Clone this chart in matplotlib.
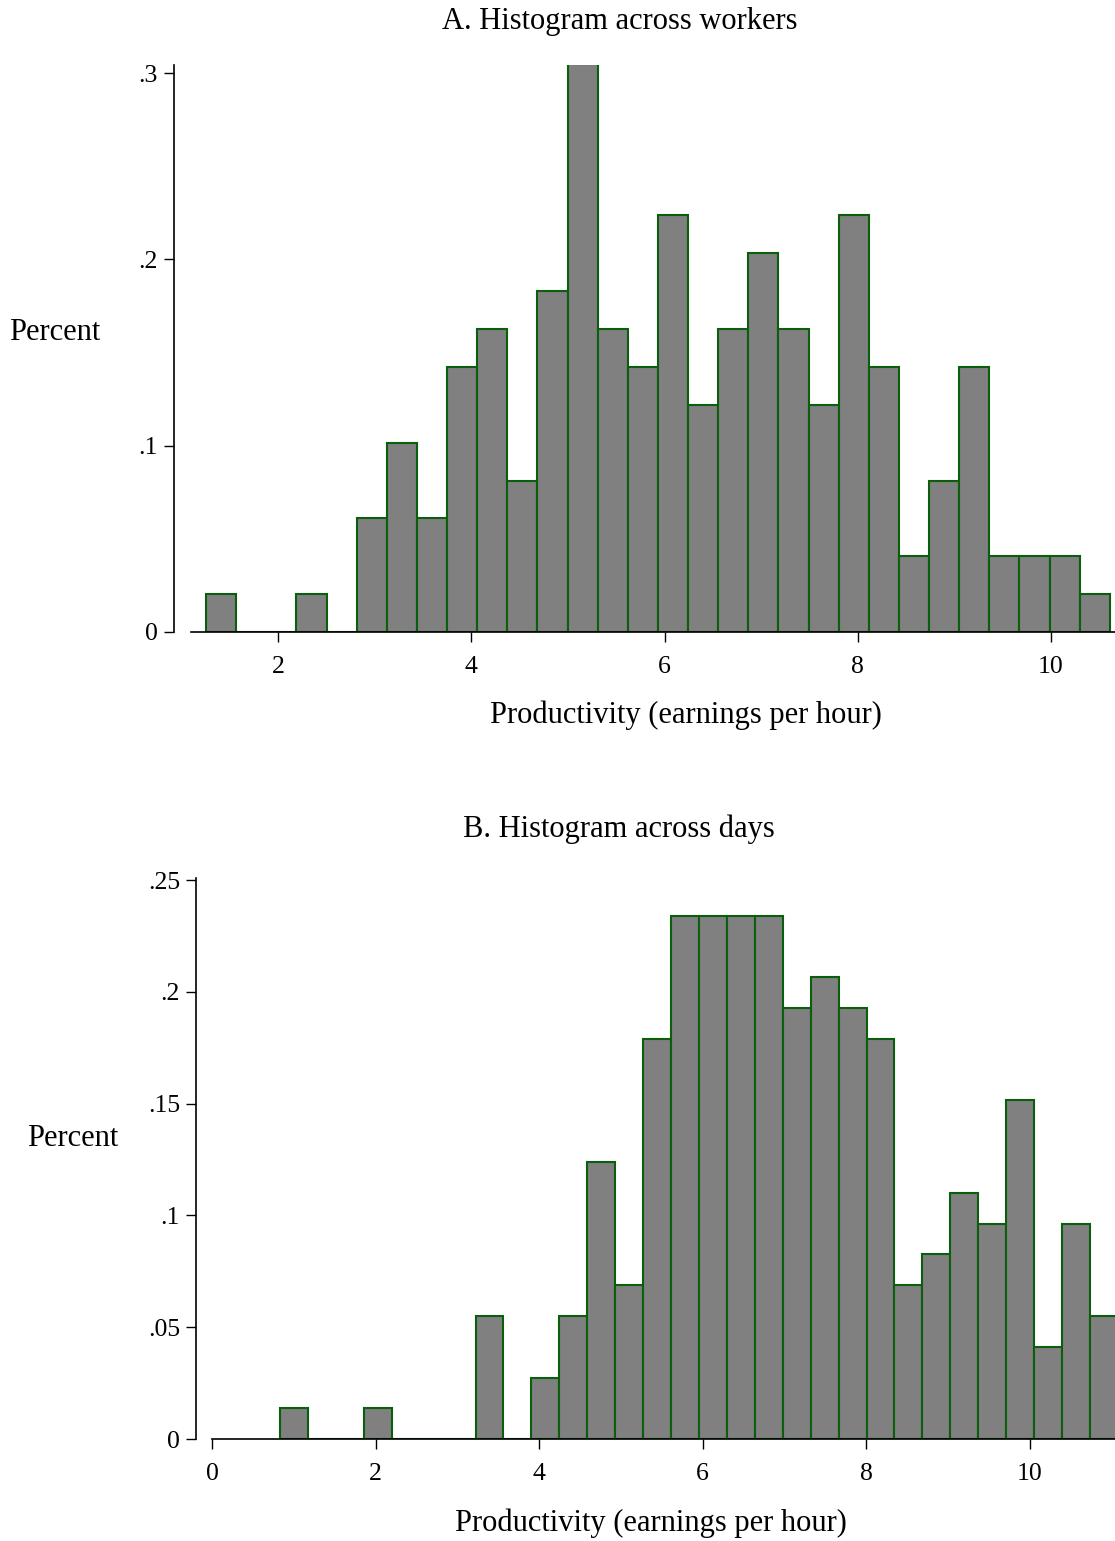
import numpy as np
import matplotlib
matplotlib.use('Agg')
import matplotlib.pyplot as plt

# ================= data =================
# Panel A: histogram across workers (30 bins)
workers_start = 1.255
workers_width = 0.3118
workers_pct = [0.0203, 0.0, 0.0, 0.0203, 0.0, 0.0610, 0.1016, 0.0610, 0.1423, 0.1626,
               0.0813, 0.1829, 0.3049, 0.1626, 0.1423, 0.2236, 0.1220, 0.1626, 0.2033, 0.1626,
               0.1220, 0.2236, 0.1423, 0.0407, 0.0813, 0.1423, 0.0407, 0.0407, 0.0407, 0.0203]
workers_yticks = [0, 0.1, 0.2, 0.3]
workers_yticklabels = ['0', '.1', '.2', '.3']
workers_xticks = [2, 4, 6, 8, 10]

# Panel B: histogram across days (30 bins)
days_start = 0.831
days_width = 0.3415
days_pct = [0.0138, 0.0, 0.0, 0.0138, 0.0, 0.0, 0.0, 0.0550, 0.0, 0.0275,
            0.0550, 0.1238, 0.0688, 0.1789, 0.2339, 0.2339, 0.2339, 0.2339, 0.1926, 0.2064,
            0.1926, 0.1789, 0.0688, 0.0826, 0.1101, 0.0963, 0.1514, 0.0413, 0.0963, 0.0550]
days_yticks = [0, 0.05, 0.1, 0.15, 0.2, 0.25]
days_yticklabels = ['0', '.05', '.1', '.15', '.2', '.25']
days_xticks = [0, 2, 4, 6, 8, 10]
# ==============================================================

plt.rcParams['font.family'] = ['Liberation Serif', 'DejaVu Serif']

FILL = '#808080'
EDGE = '#0b5e0b'

fig = plt.figure(figsize=(11.15, 15.41), dpi=100)


def draw_panel(ax, start, width, pct, xlim, ylim, xspine_left, xticks, yticks, yticklabels):
    n = len(pct)
    lefts = start + width * np.arange(n)
    ax.bar(lefts, pct, width=width, align='edge', color=FILL,
           edgecolor=EDGE, linewidth=1.5, zorder=2)
    ax.set_xlim(*xlim)
    ax.set_ylim(*ylim)
    for s in ['top', 'right']:
        ax.spines[s].set_visible(False)
    ax.spines['bottom'].set_bounds(xspine_left, xlim[1])
    ax.spines['bottom'].set_zorder(3)
    ax.spines['left'].set_linewidth(1.2)
    ax.spines['bottom'].set_linewidth(1.2)
    ax.set_xticks(xticks)
    ax.set_xticklabels([str(t) for t in xticks])
    ax.set_yticks(yticks)
    ax.set_yticklabels(yticklabels)
    ax.tick_params(axis='x', length=7.5, width=1, pad=10, labelsize=18.5)
    ax.tick_params(axis='y', length=7.5, width=1, pad=4, labelsize=18.5)


# Panel A
ax1 = fig.add_axes([174 / 1115, (1541 - 632) / 1541, (1115 - 174) / 1115, (632 - 65) / 1541])
draw_panel(ax1, workers_start, workers_width, workers_pct,
           (0.924, 10.662), (0, 0.3043), 1.1, workers_xticks,
           workers_yticks, workers_yticklabels)

# Panel B
ax2 = fig.add_axes([196 / 1115, (1541 - 1439) / 1541, (1115 - 196) / 1115, (1439 - 878) / 1541])
draw_panel(ax2, days_start, days_width, days_pct,
           (-0.196, 11.04), (0, 0.2509), 0.0, days_xticks,
           days_yticks, days_yticklabels)

# text
fs = 22
fig.text(620 / 1115, 1 - 21 / 1541, 'A. Histogram across workers', ha='center', va='center', fontsize=fs)
fig.text(55 / 1115, 1 - 332 / 1541, 'Percent', ha='center', va='center', fontsize=fs)
fig.text(686 / 1115, 1 - 715 / 1541, 'Productivity (earnings per hour)', ha='center', va='center', fontsize=fs)

fig.text(619 / 1115, 1 - 829 / 1541, 'B. Histogram across days', ha='center', va='center', fontsize=fs)
fig.text(73 / 1115, 1 - 1138 / 1541, 'Percent', ha='center', va='center', fontsize=fs)
fig.text(651 / 1115, 1 - 1523 / 1541, 'Productivity (earnings per hour)', ha='center', va='center', fontsize=fs)

plt.savefig('out.png', dpi=100)
